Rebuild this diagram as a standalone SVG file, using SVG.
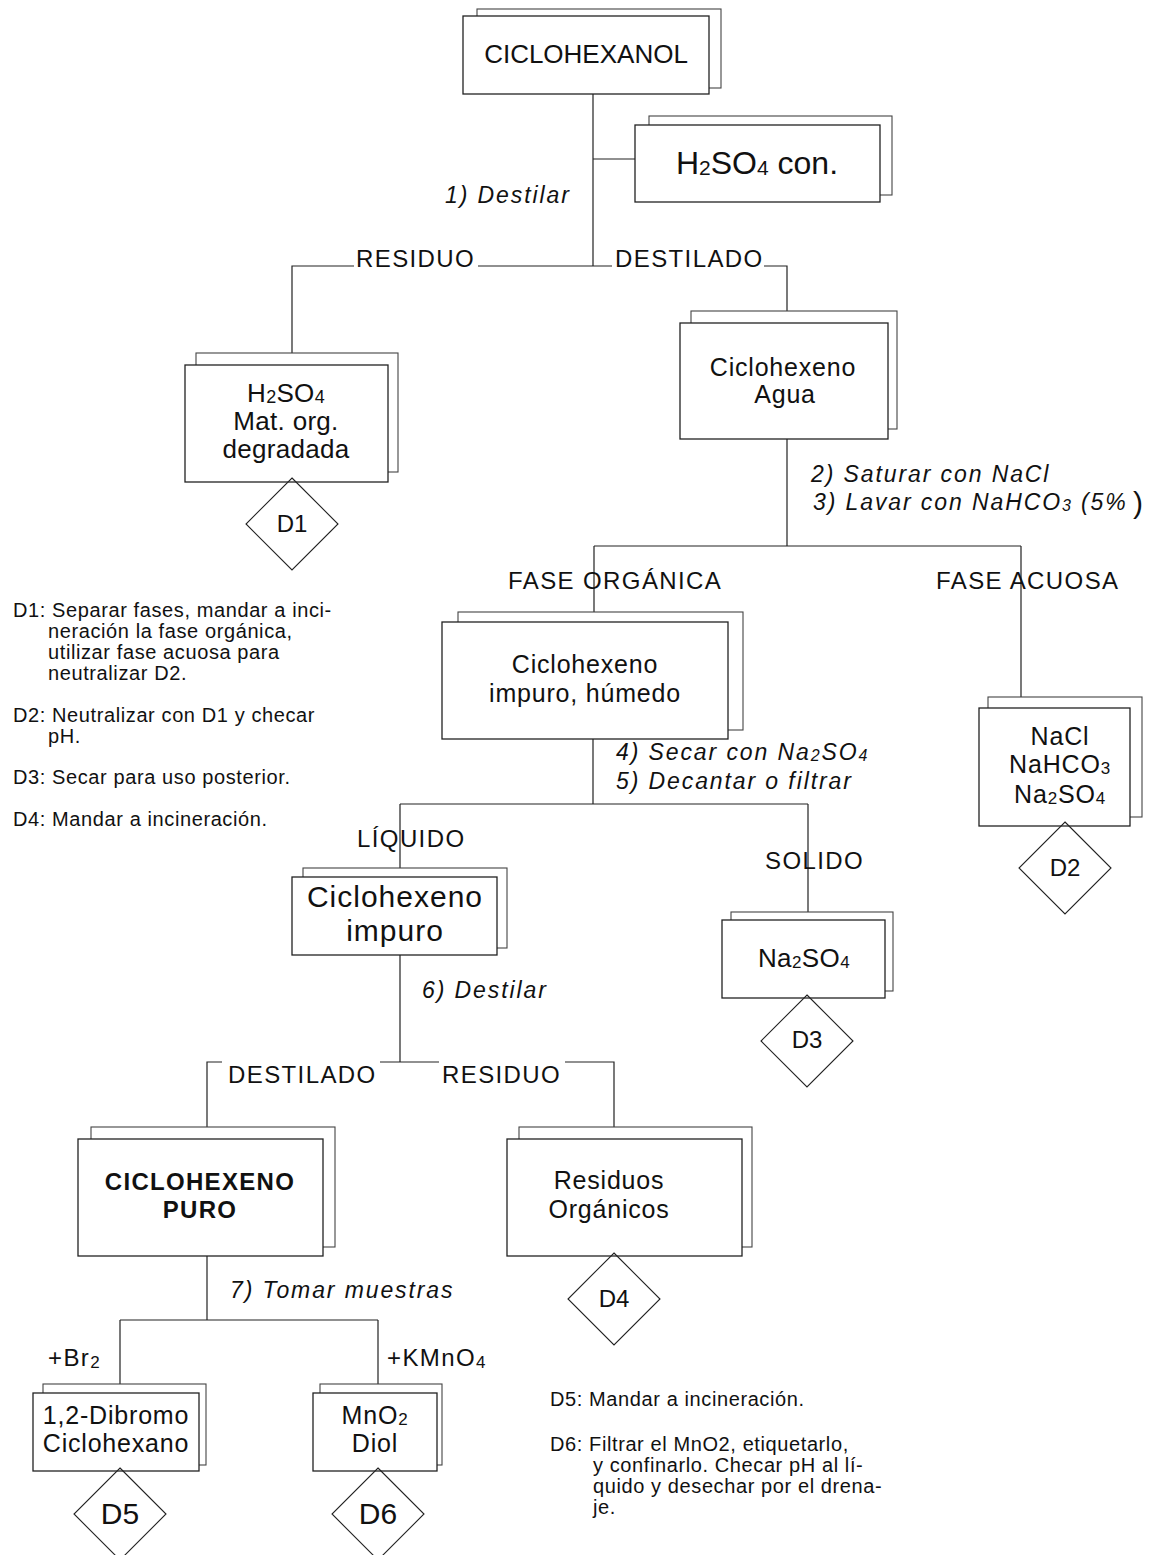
<svg xmlns="http://www.w3.org/2000/svg" width="1152" height="1555" viewBox="0 0 1152 1555">
<style>
text{font-family:"Liberation Sans",Arial,sans-serif;fill:#111}
.bk{fill:#fff;stroke:#444;stroke-width:1.1}
.fr{fill:#fff;stroke:#222;stroke-width:1.3}
.dm{fill:none;stroke:#222;stroke-width:1.1}
.ln{stroke:#222;stroke-width:1.2;fill:none}
.lbl{font-size:24px;letter-spacing:1.4px}
.step{font-size:23px;font-style:italic;letter-spacing:1.9px}
.note{font-size:20px;letter-spacing:0.6px}
.c{text-anchor:middle}
.b25{font-size:25px;letter-spacing:0.8px}
.dd{font-size:24px;text-anchor:middle}
.dl{font-size:30px;text-anchor:middle}
</style>

<g id="connectors">
<path class="ln" d="M593,94V266M593,159H635"/>
<path class="ln" d="M292,353V266H354M478,266H612M764,266H787V311"/>
<path class="ln" d="M787,439V546M594,546H1021M594,546V612M1021,546V697"/>
<path class="ln" d="M593,739V804M400,804H808M400,804V868M808,804V912"/>
<path class="ln" d="M400,955V1062M380,1062H439M565,1062H614V1127M207,1127V1062H222"/>
<path class="ln" d="M207,1256V1320M120,1320H378M120,1320V1384M378,1320V1384"/>
</g>

<g id="labels">
<text class="lbl" x="356" y="267">RESIDUO</text>
<text class="lbl" x="615" y="267">DESTILADO</text>
<text class="lbl" x="508" y="589">FASE ORGÁNICA</text>
<text class="lbl" x="936" y="589">FASE ACUOSA</text>
<text class="lbl" x="357" y="847">LÍQUIDO</text>
<text class="lbl" x="765" y="869">SOLIDO</text>
<text class="lbl" x="228" y="1083">DESTILADO</text>
<text class="lbl" x="442" y="1083">RESIDUO</text>
<text class="lbl" x="48" y="1366">+Br<tspan font-size="17px" dy="2">2</tspan></text>
<text class="lbl" x="387" y="1366" letter-spacing="2.5px">+KMnO<tspan font-size="17px" dy="2">4</tspan></text>
</g>

<g id="steps">
<text class="step" x="445" y="203">1) Destilar</text>
<text class="step" x="811" y="482">2) Saturar con NaCl</text>
<text class="step" x="813" y="510">3) Lavar con NaHCO<tspan font-size="16px" dy="1">3</tspan><tspan dy="-1"> (5%</tspan><tspan x="1133" font-size="30px" font-style="normal" dy="3">)</tspan></text>
<text class="step" x="616" y="760">4) Secar con Na<tspan font-size="16px" dy="1">2</tspan><tspan dy="-1">SO</tspan><tspan font-size="16px" dy="1">4</tspan></text>
<text class="step" x="616" y="789">5) Decantar o filtrar</text>
<text class="step" x="422" y="998">6) Destilar</text>
<text class="step" x="230" y="1298">7) Tomar muestras</text>
</g>

<g id="n-ciclohexanol">
<rect class="bk" x="477" y="9" width="244" height="79"/>
<rect class="fr" x="463" y="16" width="246" height="78"/>
<text x="586" y="63" class="c" font-size="26px">CICLOHEXANOL</text>
</g>

<g id="n-h2so4-con">
<rect class="bk" x="649" y="116" width="243" height="79"/>
<rect class="fr" x="635" y="125" width="245" height="77"/>
<text x="757" y="174" class="c" font-size="32px">H<tspan font-size="21px" dy="1">2</tspan><tspan dy="-1">SO</tspan><tspan font-size="21px" dy="1">4</tspan><tspan dy="-1"> con.</tspan></text>
</g>

<g id="n-residuo1">
<rect class="bk" x="196" y="353" width="202" height="119"/>
<rect class="fr" x="185" y="365" width="203" height="117"/>
<g font-size="26px" letter-spacing="0.3px" class="c">
<text x="286" y="402">H<tspan font-size="18px" dy="1">2</tspan><tspan dy="-1">SO</tspan><tspan font-size="18px" dy="1">4</tspan></text>
<text x="286" y="430">Mat. org.</text>
<text x="286" y="458">degradada</text>
</g>
</g>

<g id="n-agua">
<rect class="bk" x="691" y="311" width="206" height="118"/>
<rect class="fr" x="680" y="323" width="208" height="116"/>
<text class="b25 c" x="783" y="376">Ciclohexeno</text>
<text class="b25 c" x="785" y="403">Agua</text>
</g>

<g id="n-humedo">
<rect class="bk" x="458" y="612" width="285" height="118"/>
<rect class="fr" x="442" y="622" width="286" height="117"/>
<text class="b25 c" x="585" y="673">Ciclohexeno</text>
<text class="b25 c" x="585" y="702">impuro, húmedo</text>
</g>

<g id="n-acuosa">
<rect class="bk" x="988" y="697" width="154" height="120"/>
<rect class="fr" x="979" y="708" width="151" height="118"/>
<text class="b25 c" x="1060" y="745">NaCl</text>
<text class="b25 c" x="1060" y="773">NaHCO<tspan font-size="17px" dy="1">3</tspan></text>
<text class="b25 c" x="1060" y="803">Na<tspan font-size="17px" dy="1">2</tspan><tspan dy="-1">SO</tspan><tspan font-size="17px" dy="1">4</tspan></text>
</g>

<g id="n-impuro">
<rect class="bk" x="303" y="868" width="204" height="80"/>
<rect class="fr" x="292" y="877" width="205" height="78"/>
<text class="c" x="395" y="907" font-size="30px" letter-spacing="1px">Ciclohexeno</text>
<text class="c" x="395" y="941" font-size="30px" letter-spacing="1px">impuro</text>
</g>

<g id="n-solido">
<rect class="bk" x="731" y="912" width="162" height="79"/>
<rect class="fr" x="722" y="920" width="163" height="78"/>
<text class="c" x="804" y="967" font-size="26px" letter-spacing="0.4px">Na<tspan font-size="17px" dy="1">2</tspan><tspan dy="-1">SO</tspan><tspan font-size="17px" dy="1">4</tspan></text>
</g>

<g id="n-puro">
<rect class="bk" x="91" y="1127" width="244" height="120"/>
<rect class="fr" x="78" y="1139" width="245" height="117"/>
<text class="c" x="200" y="1190" font-size="24px" font-weight="bold" letter-spacing="1.3px">CICLOHEXENO</text>
<text class="c" x="200" y="1218" font-size="24px" font-weight="bold" letter-spacing="1.3px">PURO</text>
</g>

<g id="n-residuos">
<rect class="bk" x="519" y="1127" width="233" height="120"/>
<rect class="fr" x="507" y="1139" width="235" height="117"/>
<text class="b25 c" x="609" y="1189">Residuos</text>
<text class="b25 c" x="609" y="1218">Orgánicos</text>
</g>

<g id="n-dibromo">
<rect class="bk" x="43" y="1384" width="163" height="81"/>
<rect class="fr" x="33" y="1393" width="166" height="78"/>
<text class="b25 c" x="116" y="1424">1,2-Dibromo</text>
<text class="b25 c" x="116" y="1452">Ciclohexano</text>
</g>

<g id="n-mno2">
<rect class="bk" x="320" y="1384" width="122" height="81"/>
<rect class="fr" x="313" y="1393" width="124" height="78"/>
<text class="b25 c" x="375" y="1424">MnO<tspan font-size="17px" dy="1">2</tspan></text>
<text class="b25 c" x="375" y="1452">Diol</text>
</g>

<g id="d1"><path class="dm" d="M292,478L338,524L292,570L246,524Z"/><text class="dd" x="292" y="532">D1</text></g>
<g id="d2"><path class="dm" d="M1065,822L1111,868L1065,914L1019,868Z"/><text class="dd" x="1065" y="876">D2</text></g>
<g id="d3"><path class="dm" d="M807,995L853,1041L807,1087L761,1041Z"/><text class="dd" x="807" y="1048">D3</text></g>
<g id="d4"><path class="dm" d="M614,1253L660,1299L614,1345L568,1299Z"/><text class="dd" x="614" y="1307">D4</text></g>
<g id="d5"><path class="dm" d="M120,1468L166,1514L120,1560L74,1514Z"/><text class="dl" x="120" y="1524">D5</text></g>
<g id="d6"><path class="dm" d="M378,1468L424,1514L378,1560L332,1514Z"/><text class="dl" x="378" y="1524">D6</text></g>

<g id="notes">
<text class="note" x="13" y="617">D1: Separar fases, mandar a inci-</text>
<text class="note" x="48" y="638">neración la fase orgánica,</text>
<text class="note" x="48" y="659">utilizar fase acuosa para</text>
<text class="note" x="48" y="680">neutralizar D2.</text>
<text class="note" x="13" y="722">D2: Neutralizar con D1 y checar</text>
<text class="note" x="48" y="743">pH.</text>
<text class="note" x="13" y="784">D3: Secar para uso posterior.</text>
<text class="note" x="13" y="826">D4: Mandar a incineración.</text>
<text class="note" x="550" y="1406">D5: Mandar a incineración.</text>
<text class="note" x="550" y="1451">D6: Filtrar el MnO2, etiquetarlo,</text>
<text class="note" x="593" y="1472">y confinarlo. Checar pH al lí-</text>
<text class="note" x="593" y="1493">quido y desechar por el drena-</text>
<text class="note" x="593" y="1514">je.</text>
</g>
</svg>
